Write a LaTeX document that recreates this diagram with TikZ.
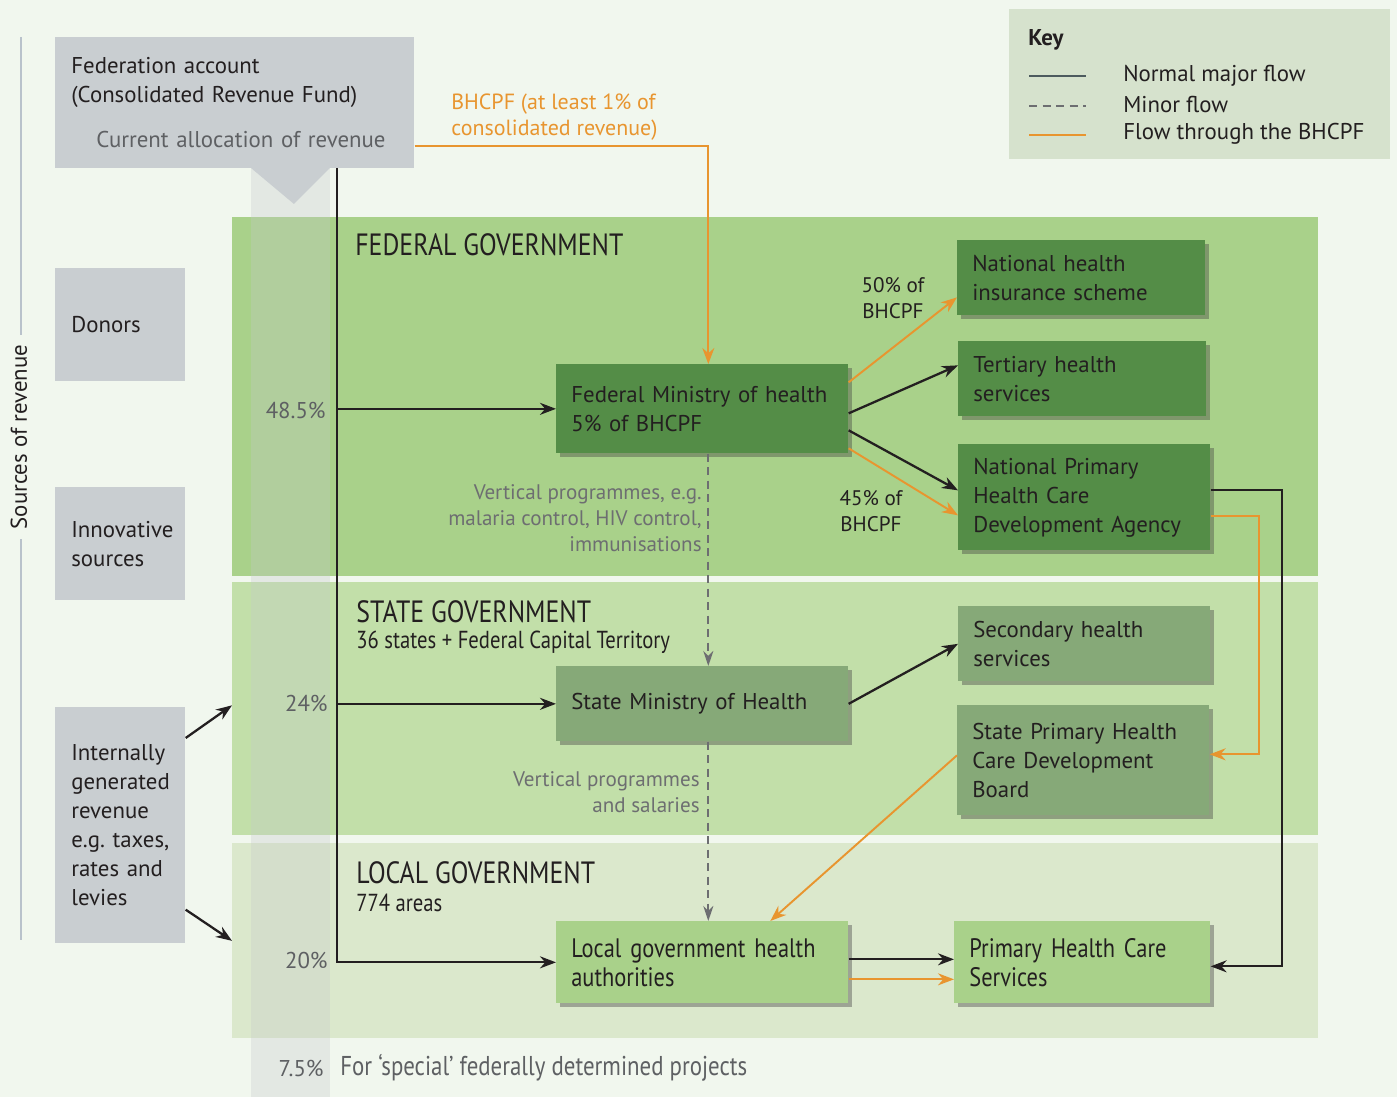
\documentclass[tikz,border=0pt]{standalone}
\usepackage{fontspec}
\setmainfont{PT Sans}
\newfontfamily\condfont[FakeStretch=0.84]{PT Sans}
\usetikzlibrary{arrows.meta,shadows}

\definecolor{bgcol}{HTML}{F1F7EE}
\definecolor{boxgray}{HTML}{C9CED1}
\definecolor{fedband}{HTML}{A9D18A}
\definecolor{stateband}{HTML}{C2DFA9}
\definecolor{localband}{HTML}{DBE8CC}
\definecolor{darkbox}{HTML}{548D47}
\definecolor{midbox}{HTML}{86A978}
\definecolor{lightbox}{HTML}{A9D18A}
\definecolor{keyfill}{HTML}{D6E2CD}
\definecolor{flowor}{HTML}{E8952F}
\definecolor{inkdark}{HTML}{231F20}
\definecolor{labelgray}{HTML}{5E6063}
\definecolor{minorgray}{HTML}{6D6E71}
\definecolor{rulegray}{HTML}{B9C2CB}
\definecolor{colgray}{HTML}{C4C8CB}
\definecolor{keyline}{HTML}{4D5B5E}

\newcommand\orgfont{\fontsize{13}{16.5}\selectfont}
\newcommand\notefont{\fontsize{12}{14.8}\selectfont}
\newcommand\titlefont{\condfont\fontsize{17.5}{20}\selectfont}
\newcommand\subfont{\condfont\fontsize{14}{17}\selectfont}
\newcommand\localfont{\condfont\fontsize{15.2}{16.5}\selectfont}

\begin{document}
\begin{tikzpicture}[x=0.02cm, y=-0.02cm,
    every node/.style={text=inkdark},
    band/.style={anchor=north west, inner sep=0pt, minimum width=21.72cm},
    srcbox/.style={anchor=north west, fill=boxgray, align=left, inner xsep=0.32cm, inner ysep=0pt, font=\orgfont},
    orgbox/.style={anchor=north west, align=left, inner xsep=0.3cm, inner ysep=0pt, font=\orgfont,
        drop shadow={shadow xshift=0.07cm, shadow yshift=-0.07cm, opacity=0.4, fill=black!75}},
    major/.style={draw=inkdark, line width=1.3pt, -{Stealth[length=0.32cm,width=0.24cm]}},
    minor/.style={draw=minorgray, line width=1.2pt, dash pattern=on 0.16cm off 0.11cm, -{Stealth[length=0.3cm,width=0.2cm]}},
    bhcpf/.style={draw=flowor, line width=1.1pt, -{Stealth[length=0.32cm,width=0.24cm]}},
    pct/.style={anchor=east, text=labelgray, font=\orgfont, inner sep=0pt},
    note/.style={align=right, text=minorgray, font=\notefont, inner sep=0pt},
    title/.style={anchor=west, font=\titlefont, inner sep=0pt},
    subtitle/.style={anchor=west, font=\subfont, inner sep=0pt}]

    \fill[bgcol] (0,0) rectangle (1397,1097);

    \node[band, fill=fedband, minimum height=7.18cm] (fedgov) at (232,217) {};
    \node[band, fill=stateband, minimum height=5.06cm] (stategov) at (232,582) {};
    \node[band, fill=localband, minimum height=3.9cm] (localgov) at (232,843) {};
    \fill[colgray, opacity=0.3] (251,147) rectangle (330,1097);

    \draw[rulegray, line width=1.2pt] (21,37) -- (21,940);
    \node[rotate=90, fill=bgcol, inner xsep=0.2cm, font=\orgfont] (srclabel) at (19,437) {Sources of revenue};

    \node[srcbox, text width=6.54cm, minimum height=2.62cm] (fed) at (55,37)
        {Federation account\\(Consolidated Revenue Fund)\\[0.32cm]\hspace*{0.5cm}{\color{labelgray}Current allocation of revenue}};
    \fill[boxgray] (251,168) -- (330,168) -- (294,204) -- cycle;
    \node[srcbox, text width=1.96cm, minimum height=2.26cm] (donors) at (55,268) {Donors};
    \node[srcbox, text width=1.96cm, minimum height=2.26cm] (innov) at (55,487) {Innovative\\sources};
    \node[srcbox, text width=1.96cm, minimum height=4.72cm] (internal) at (55,707)
        {Internally\\generated\\revenue\\e.g.~taxes,\\rates~and\\levies};

    \node[title] (fedtitle) at (355,245) {FEDERAL GOVERNMENT};
    \node[title] (statetitle) at (356,612) {STATE GOVERNMENT};
    \node[subtitle] (statesub) at (356,642) {36 states + Federal Capital Territory};
    \node[title] (localtitle) at (356,873) {LOCAL GOVERNMENT};
    \node[subtitle] (localsub) at (356,903) {774 areas};

    \node[orgbox, fill=darkbox, text width=5.24cm, minimum height=1.78cm] (fmoh) at (556,364) {Federal Ministry of health\\5\% of BHCPF};
    \node[orgbox, fill=darkbox, text width=4.36cm, minimum height=1.5cm] (nhis) at (957,240) {National health\\insurance scheme};
    \node[orgbox, fill=darkbox, text width=4.36cm, minimum height=1.5cm] (tert) at (958,341) {Tertiary health\\services};
    \node[orgbox, fill=darkbox, text width=4.44cm, minimum height=2.12cm] (nphc) at (958,444) {National Primary\\Health Care\\Development Agency};
    \node[orgbox, fill=midbox, text width=5.24cm, minimum height=1.5cm] (smoh) at (556,666) {State Ministry of Health};
    \node[orgbox, fill=midbox, text width=4.44cm, minimum height=1.5cm] (sec) at (958,606) {Secondary health\\services};
    \node[orgbox, fill=midbox, text width=4.44cm, minimum height=2.2cm] (sphc) at (957,705) {State Primary Health\\Care Development\\Board};
    \node[orgbox, fill=lightbox, text width=5.24cm, minimum height=1.64cm, font=\localfont] (lgha) at (556,921) {Local government health\\authorities};
    \node[orgbox, fill=lightbox, text width=4.52cm, minimum height=1.64cm, font=\localfont] (phc) at (954,921) {Primary Health Care\\Services};

    \coordinate (trunk) at (337,168);
    \draw[major] (trunk) |- (lgha.west);
    \draw[major] (trunk |- fmoh.west) -- (fmoh.west);
    \draw[major] (trunk |- smoh.west) -- (smoh.west);
    \node[pct] (p48) at (326,410) {48.5\%};
    \node[pct] (p24) at (328,703) {24\%};
    \node[pct] (p20) at (328,960) {20\%};
    \node[pct] (p7) at (324,1068) {7.5\%};
    \node[anchor=west, text=labelgray, font=\condfont\fontsize{15.5}{18}\selectfont, inner sep=0pt] (special) at (340,1068) {For ‘special’ federally determined projects};

    \draw[major] ([yshift=-0.62cm]internal.north east) -- ([yshift=0.07cm]stategov.west);
    \draw[major] ([yshift=0.68cm]internal.south east) -- (localgov.west);

    \draw[bhcpf] ([yshift=-0.87cm]fed.east) -| ([xshift=0.12cm]fmoh.north);
    \node[anchor=west, align=left, text=flowor, font=\fontsize{12.5}{14.8}\selectfont, inner sep=0pt] (bhcpflabel) at (451,117) {BHCPF (at least 1\% of\\consolidated revenue)};

    \draw[bhcpf] ([yshift=0.53cm]fmoh.east) -- ([yshift=-0.39cm]nhis.west);
    \draw[major] ([yshift=-0.09cm]fmoh.east) -- ([yshift=0.27cm]tert.west);
    \draw[major] ([yshift=-0.43cm]fmoh.east) -- ([yshift=0.14cm]nphc.west);
    \draw[bhcpf] ([yshift=-0.79cm]fmoh.east) -- ([yshift=-0.36cm]nphc.west);
    \node[align=center, font=\notefont, inner sep=0pt] (fifty) at (893,298) {50\% of\\BHCPF};
    \node[align=center, font=\notefont, inner sep=0pt] (fortyfive) at (871,511) {45\% of\\BHCPF};

    \draw[minor] ([xshift=0.12cm]fmoh.south) -- ([xshift=0.12cm]smoh.north);
    \draw[minor] ([xshift=0.12cm]smoh.south) -- ([xshift=0.12cm]lgha.north);
    \node[note, anchor=east] (vertfed) at (702,518) {Vertical programmes, e.g.\\malaria control, HIV control,\\immunisations};
    \node[note, anchor=east] (vertstate) at (700,792) {Vertical programmes\\and salaries};

    \draw[major] (smoh.east) -- (sec.west);
    \draw[bhcpf] ([yshift=0.1cm]sphc.west) -- ([xshift=1.36cm]lgha.north);
    \draw[major] ([yshift=0.14cm]nphc.east) -- ++(1.42cm,0) |- ([yshift=-0.08cm]phc.east);
    \draw[bhcpf] ([yshift=-0.38cm]nphc.east) -- ++(0.96cm,0) |- ([yshift=0.12cm]sphc.east);
    \draw[major] ([yshift=0.06cm]lgha.east) -- ([yshift=0.06cm]phc.west);
    \draw[bhcpf] ([yshift=-0.34cm]lgha.east) -- ([yshift=-0.34cm]phc.west);

    \node[anchor=north west, fill=keyfill, minimum width=7.62cm, minimum height=3cm, inner sep=0pt] (keybox) at (1009,9) {};
    \node[anchor=west, font=\orgfont\bfseries, inner sep=0pt] (keytitle) at (1028,40) {Key};
    \draw[keyline, line width=1.3pt] (1029,76) -- (1086,76);
    \draw[minorgray, line width=1.2pt, dash pattern=on 0.16cm off 0.11cm] (1029,106) -- (1086,106);
    \draw[flowor, line width=1.3pt] (1029,135) -- (1086,135);
    \node[anchor=west, font=\orgfont, inner sep=0pt] (keymajor) at (1123,76) {Normal major flow};
    \node[anchor=west, font=\orgfont, inner sep=0pt] (keyminor) at (1123,105) {Minor flow};
    \node[anchor=west, font=\orgfont, inner sep=0pt] (keyflow) at (1123,134) {Flow through the BHCPF};
\end{tikzpicture}
\end{document}
